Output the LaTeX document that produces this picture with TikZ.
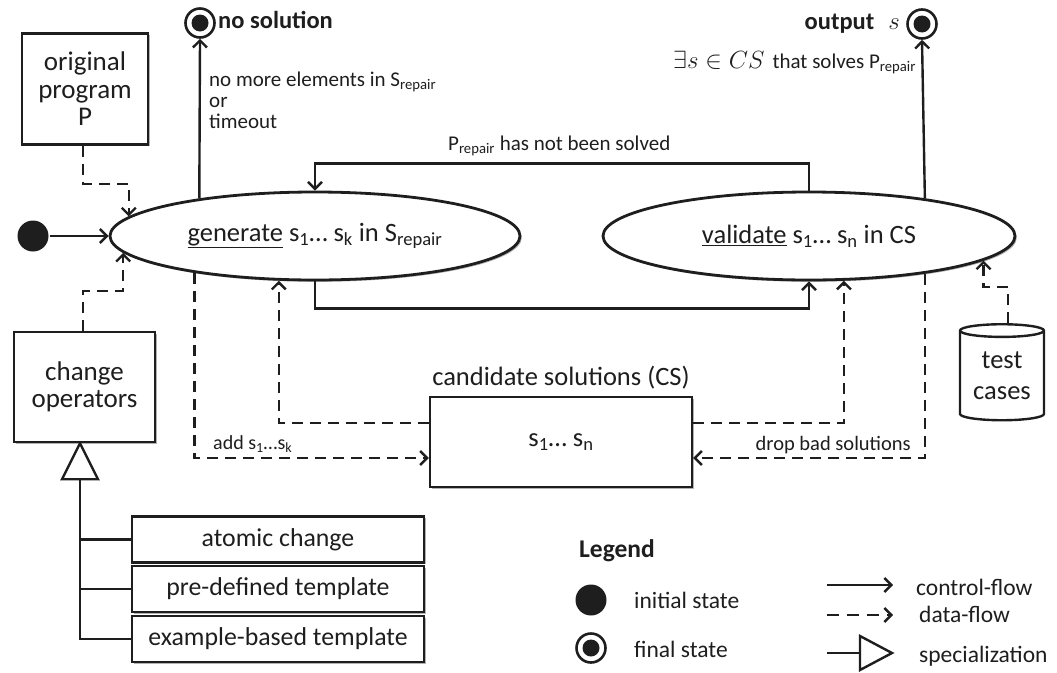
\documentclass[tikz,border=0pt]{standalone}
\usepackage{fontspec}
\setmainfont{Carlito}
\usetikzlibrary{arrows.meta,shapes.geometric,calc,shadows}
\newcommand\szA{\fontsize{27}{27.5}\selectfont}
\newcommand\szB{\fontsize{26.5}{31}\selectfont}
\newcommand\szC{\fontsize{25.8}{28}\selectfont}
\newcommand\szL{\fontsize{21}{22}\selectfont}
\newcommand\szT{\fontsize{24.5}{26}\selectfont}
\newcommand\szD{\fontsize{25.5}{28}\selectfont}
\newcommand\szE{\fontsize{23.5}{26}\selectfont}
\definecolor{ink}{HTML}{1E1E1E}
\tikzset{
  ctrl/.style={line width=2.4pt, -{Straight Barb[length=7pt,width=14pt,line width=2.4pt]}},
  dflow/.style={ctrl, dash pattern=on 11pt off 7pt},
  shad/.style={drop shadow={shadow xshift=1.8pt, shadow yshift=-1.8pt, opacity=0.3, fill=black}},
  box/.style={draw, fill=white, shad, line width=2.4pt, rectangle, inner sep=0pt, align=center},
  state/.style={draw, fill=white, shad, ellipse, line width=2.8pt, inner sep=0pt, font=\szB},
  finalring/.style={draw, circle, line width=2.6pt, minimum size=29pt, inner sep=0pt},
  initdot/.style={circle, fill, minimum size=31pt, inner sep=0pt},
  lbl/.style={inner sep=0pt, font=\szL},
}
\begin{document}
\begin{tikzpicture}[x=1pt,y=-1pt,line width=2.4pt,color=ink]
\useasboundingbox (0,0) rectangle (1057,672);

% states
\node[state, minimum width=410pt, minimum height=88pt] (gen) at (315,236)
  {\underline{generate} s\textsubscript{1}… s\textsubscript{k} in S\textsubscript{repair}};
\node[state, minimum width=412pt, minimum height=88pt] (val) at (809,236)
  {\underline{validate} s\textsubscript{1}… s\textsubscript{n} in CS};

% initial state
\node[initdot] (init) at (33,236) {};
\draw[ctrl] (init) -- (gen.west);

% final states
\node[finalring] (nosol) at (200,23) {};
\fill (nosol.center) circle (8.5pt);
\node[anchor=base west, inner sep=0pt, font=\szT\bfseries] (nosolt) at (217,28) {no solution};
\draw[ctrl] (gen.162.4) -- (nosol.south);

\node[finalring] (out) at (922,24) {};
\fill (out.center) circle (8.5pt);
\node[anchor=base east, inner sep=0pt, font=\szT] (outt) at (901,29) {\textbf{output}\hspace{14pt}{\fontsize{27}{27}\selectfont$s$}};
\draw[ctrl] (val.18.04) -- (out.south);

% labels top
\node[lbl, anchor=base west] (nm1) at (208,86) {no more elements in S\textsubscript{repair}};
\node[lbl, anchor=base west] (nm2) at (208,107) {or};
\node[lbl, anchor=base west] (nm3) at (208,128) {timeout};
\node[lbl, anchor=base west] (ex) at (672,68) {{\fontsize{24}{26}\selectfont$\exists s\in CS$}\hspace{8pt}that solves P\textsubscript{repair}};
\node[lbl, anchor=base west] (nsolved) at (447,150) {P\textsubscript{repair} has not been solved};

% control loops
\draw[ctrl] (val.north) -- ++(0,-27) -| (gen.north);
\draw[ctrl] (gen.south) -- ++(0,27) -| (val.south);

% original program
\node[box, minimum width=126pt, minimum height=111pt, font=\szA] (orig) at (85,89) {original\\program\\P};
\draw[dflow] ([xshift=-2pt]orig.south) -- ++(0,38) -| (gen.174.7);

% change operators
\node[box, minimum width=141pt, minimum height=110pt, font=\szA] (co) at (84.5,387) {change\\operators};
\draw[dflow] ([xshift=-1.5pt]co.north) -- ++(0,-40) -| (gen.185.3);

% specialization
\coordinate (tri) at ([xshift=-4.5pt]co.south);
\draw[line join=miter, fill=white] (tri) -- ++(-18,36) -- ++(36,0) -- cycle;
\coordinate (tribase) at ($(tri)+(0,36)$);
\node[box, minimum width=292pt, minimum height=46pt, font=\szC] (atom) at (278,539.5) {atomic change};
\node[box, minimum width=292pt, minimum height=46pt, font=\szC] (pre) at (278,589) {pre-defined template};
\node[box, minimum width=292pt, minimum height=46pt, font=\szC] (exb) at (278,639) {example-based template};
\draw (tribase) |- (exb.west);
\draw (tribase |- atom.west) -- (atom.west);
\draw (tribase |- pre.west) -- (pre.west);

% candidate solutions
\node[box, minimum width=262pt, minimum height=90pt, font=\szB] (cs) at (561,442) {s\textsubscript{1}… s\textsubscript{n}};
\node[anchor=base, inner sep=0pt, font=\szB] (cstitle) at (561,385) {candidate solutions (CS)};
\draw[dflow] (gen.197.4) |- ([yshift=-16pt]cs.west);
\draw[dflow] ([yshift=19pt]cs.west) -| (gen.231.1);
\draw[dflow] ([yshift=19pt]cs.east) -| (val.308.1);
\draw[dflow] (val.342.6) |- ([yshift=-16pt]cs.east);
\node[lbl, anchor=base west, font=\fontsize{20}{22}\selectfont] (addl) at (212,449) {add s\textsubscript{1}…s\textsubscript{k}};
\node[lbl, anchor=base east, font=\fontsize{20.5}{22}\selectfont] (dropl) at (912,450) {drop bad solutions};

% test cases
\node[cylinder, shape border rotate=90, draw, fill=white, line width=2.4pt, minimum width=84pt, minimum height=96pt, aspect=0.22, align=center, inner sep=0pt, font=\szB] (tc) at (1002,376) {test\\cases};
\draw[dflow] ([xshift=6pt]tc.north) -- ++(0,-36) -| (val.352.6);

% legend
\node[anchor=base west, inner sep=0pt, font=\szD\bfseries] (leg) at (578,557) {Legend};
\node[initdot] (linit) at (591,600) {};
\node[anchor=base west, inner sep=0pt, font=\szE] (linitt) at (633,608) {initial state};
\node[finalring] (lfin) at (591,648) {};
\fill (lfin.center) circle (8.5pt);
\node[anchor=base west, inner sep=0pt, font=\szE] (lfint) at (633,657) {final state};
\coordinate (c1) at (827,585); \coordinate (c2) at (893,585);
\draw[ctrl] (c1) -- (c2);
\node[anchor=base west, inner sep=0pt, font=\szE] (lc) at (915,595) {control-flow};
\coordinate (d1) at (827,615); \coordinate (d2) at (893,615);
\draw[dflow, dash pattern=on 12pt off 8pt] (d1) -- (d2);
\node[anchor=base west, inner sep=0pt, font=\szE] (ld) at (918,622) {data-flow};
\coordinate (s1) at (827,653); \coordinate (s2) at (860,653);
\draw (s1) -- (s2);
\draw[line join=miter] (s2) ++(0,-17) -- ++(32,17) -- ++(-32,17) -- cycle;
\node[anchor=base west, inner sep=0pt, font=\szE] (ls) at (918,662) {specialization};
\end{tikzpicture}
\end{document}
